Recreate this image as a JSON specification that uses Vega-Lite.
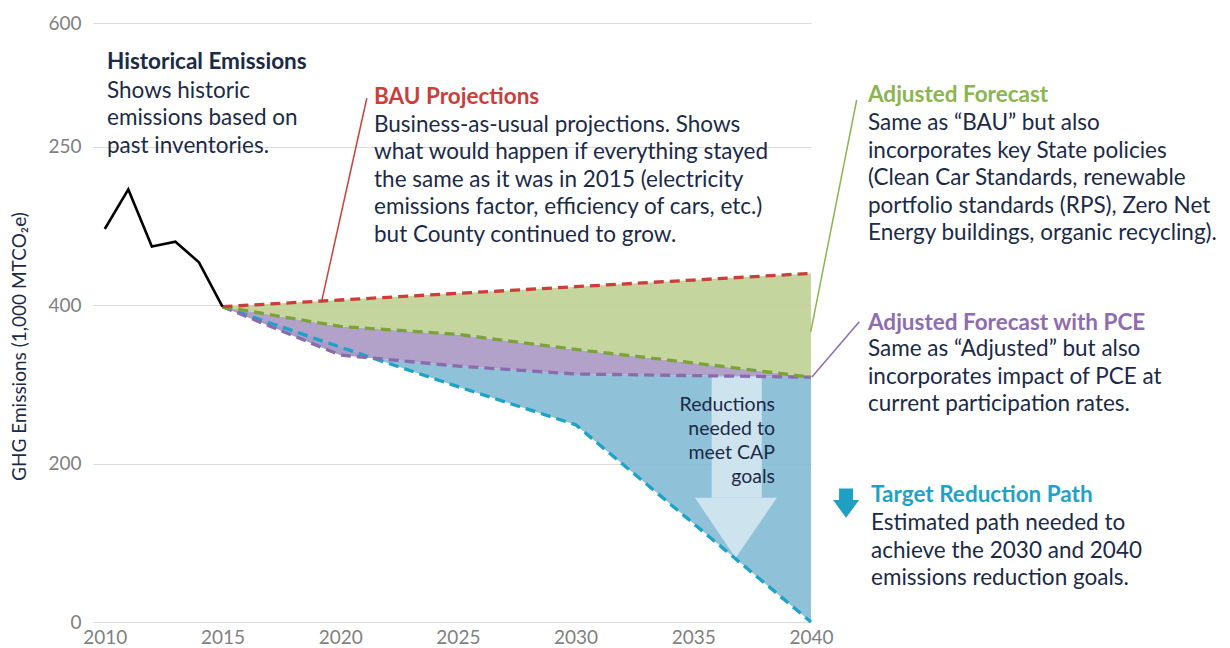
{
  "$schema": "https://vega.github.io/schema/vega-lite/v6.json",
  "width": 718,
  "height": 599,
  "autosize": {"type": "none"},
  "padding": {"left": 93, "top": 23, "right": 419, "bottom": 26},
  "background": "white",
  "config": {"view": {"stroke": null}, "font": "Lato"},
  "datasets": {
    "series": [
      {"year": 2015, "bau": 398, "adj": 398, "pce": 398, "target": 398},
      {"year": 2020, "bau": 406.4, "adj": 373, "pce": 337, "target": 347},
      {"year": 2025, "bau": 414.8, "adj": 363, "pce": 323, "target": 297},
      {"year": 2030, "bau": 423.2, "adj": 344, "pce": 313, "target": 249},
      {"year": 2035, "bau": 431.6, "adj": 327, "pce": 311, "target": 124.5},
      {"year": 2040, "bau": 440, "adj": 309, "pce": 309, "target": 0}
    ],
    "historical": [
      {"year": 2010, "value": 496},
      {"year": 2011, "value": 546},
      {"year": 2012, "value": 474},
      {"year": 2013, "value": 480},
      {"year": 2014, "value": 454},
      {"year": 2015, "value": 398}
    ],
    "arrow": [{"x1": 2035.78, "x2": 2037.91, "top": 310, "bottom": 156.7}],
    "arrowhead": [
      {"x": 2035.07, "top": 156.7, "tip": 156.7},
      {"x": 2036.8, "top": 156.7, "tip": 80.9},
      {"x": 2038.55, "top": 156.7, "tip": 156.7}
    ],
    "leaders": [
      {"series": "BAU", "x1": 2019.21, "y1": 404.3, "x2": 2021.13, "y2": 661},
      {"series": "Adjusted", "x1": 2039.99, "y1": 366.4, "x2": 2041.94, "y2": 658.8},
      {"series": "PCE", "x1": 2040.03, "y1": 308.8, "x2": 2042.05, "y2": 379.0}
    ],
    "notes": [
      {"series": "Historical", "x": 2010.095, "ty": 706.8, "by": 670.8, "title": "Historical Emissions", "body": "Shows historic\nemissions based on\npast inventories."},
      {"series": "BAU", "x": 2021.437, "ty": 662.6, "by": 627.3, "title": "BAU Projections", "body": "Business-as-usual projections. Shows\nwhat would happen if everything stayed\nthe same as it was in 2015 (electricity\nemissions factor, efficiency of cars, etc.)\nbut County continued to grow."},
      {"series": "Adjusted", "x": 2042.42, "ty": 665.1, "by": 629.4, "title": "Adjusted Forecast", "body": "Same as “BAU” but also\nincorporates key State policies\n(Clean Car Standards, renewable\nportfolio standards (RPS), Zero Net\nEnergy buildings, organic recycling)."},
      {"series": "PCE", "x": 2042.42, "ty": 377.4, "by": 344.2, "title": "Adjusted Forecast with PCE", "body": "Same as “Adjusted” but also\nincorporates impact of PCE at\ncurrent participation rates."},
      {"series": "Target", "x": 2042.55, "ty": 160.3, "by": 124.6, "title": "Target Reduction Path", "body": "Estimated path needed to\nachieve the 2030 and 2040\nemissions reduction goals."}
    ],
    "reductions": [{"x": 2038.47, "y": 273.9, "text": "Reductions\nneeded to\nmeet CAP\ngoals"}],
    "icon": [{"x": 2041.49, "y": 150.0}]
  },
  "layer": [
    {
      "data": {"name": "series"},
      "mark": {"type": "area", "color": "#85bcd5", "opacity": 0.92},
      "encoding": {
        "x": {"field": "year", "type": "quantitative", "scale": {"domain": [2009.5, 2040], "nice": false, "zero": false},
          "axis": {"values": [2010, 2015, 2020, 2025, 2030, 2035, 2040], "format": "d", "grid": false, "domain": false, "ticks": false, "labelFlush": false, "labelColor": "#7f7f7f", "labelFontSize": 19, "labelPadding": 6, "title": null}},
        "y": {"field": "pce", "type": "quantitative", "scale": {"domain": [0, 756], "nice": false, "zero": false},
          "axis": {"values": [0, 200, 400, 600, 756], "labelExpr": "datum.value == 600 ? '250' : datum.value == 756 ? '600' : datum.label", "grid": true, "gridColor": "#dadada", "gridWidth": 1.2, "domain": false, "ticks": false, "labelColor": "#7f7f7f", "labelFontSize": 19, "labelPadding": 12, "title": "GHG Emissions (1,000 MTCO₂e)", "titleColor": "#1b2a47", "titleFontSize": 19, "titleFontWeight": "normal", "titleX": -74, "titleY": 323, "titleAngle": 270, "titleAlign": "center", "titleBaseline": "middle"}},
        "y2": {"field": "target"}
      }
    },
    {
      "data": {"name": "series"},
      "mark": {"type": "area", "color": "#ab99c4", "opacity": 0.92},
      "encoding": {
        "x": {"field": "year", "type": "quantitative", "scale": {"domain": [2009.5, 2040], "nice": false, "zero": false}},
        "y": {"field": "adj", "type": "quantitative", "scale": {"domain": [0, 756], "nice": false, "zero": false}},
        "y2": {"field": "pce"}
      }
    },
    {
      "data": {"name": "series"},
      "mark": {"type": "area", "color": "#bfd395", "opacity": 0.92},
      "encoding": {
        "x": {"field": "year", "type": "quantitative", "scale": {"domain": [2009.5, 2040], "nice": false, "zero": false}},
        "y": {"field": "bau", "type": "quantitative", "scale": {"domain": [0, 756], "nice": false, "zero": false}},
        "y2": {"field": "adj"}
      }
    },
    {
      "data": {"name": "arrow"},
      "mark": {"type": "rect", "color": "#cde3ee"},
      "encoding": {
        "x": {"field": "x1", "type": "quantitative", "scale": {"domain": [2009.5, 2040], "nice": false, "zero": false}},
        "x2": {"field": "x2"},
        "y": {"field": "top", "type": "quantitative", "scale": {"domain": [0, 756], "nice": false, "zero": false}},
        "y2": {"field": "bottom"}
      }
    },
    {
      "data": {"name": "arrowhead"},
      "mark": {"type": "area", "color": "#cde3ee"},
      "encoding": {
        "x": {"field": "x", "type": "quantitative", "scale": {"domain": [2009.5, 2040], "nice": false, "zero": false}},
        "y": {"field": "top", "type": "quantitative", "scale": {"domain": [0, 756], "nice": false, "zero": false}},
        "y2": {"field": "tip"}
      }
    },
    {
      "data": {"name": "series"},
      "mark": {"type": "line", "color": "#1ca3c8", "strokeWidth": 3.3, "strokeDash": [10, 6]},
      "encoding": {
        "x": {"field": "year", "type": "quantitative", "scale": {"domain": [2009.5, 2040], "nice": false, "zero": false}},
        "y": {"field": "target", "type": "quantitative", "scale": {"domain": [0, 756], "nice": false, "zero": false}}
      }
    },
    {
      "data": {"name": "series"},
      "mark": {"type": "line", "color": "#8a6cae", "strokeWidth": 3.3, "strokeDash": [10, 6]},
      "encoding": {
        "x": {"field": "year", "type": "quantitative", "scale": {"domain": [2009.5, 2040], "nice": false, "zero": false}},
        "y": {"field": "pce", "type": "quantitative", "scale": {"domain": [0, 756], "nice": false, "zero": false}}
      }
    },
    {
      "data": {"name": "series"},
      "mark": {"type": "line", "color": "#7ca33a", "strokeWidth": 3.3, "strokeDash": [10, 6]},
      "encoding": {
        "x": {"field": "year", "type": "quantitative", "scale": {"domain": [2009.5, 2040], "nice": false, "zero": false}},
        "y": {"field": "adj", "type": "quantitative", "scale": {"domain": [0, 756], "nice": false, "zero": false}}
      }
    },
    {
      "data": {"name": "series"},
      "mark": {"type": "line", "color": "#cc3e3b", "strokeWidth": 3.3, "strokeDash": [10, 6]},
      "encoding": {
        "x": {"field": "year", "type": "quantitative", "scale": {"domain": [2009.5, 2040], "nice": false, "zero": false}},
        "y": {"field": "bau", "type": "quantitative", "scale": {"domain": [0, 756], "nice": false, "zero": false}}
      }
    },
    {
      "data": {"name": "historical"},
      "mark": {"type": "line", "color": "#000000", "strokeWidth": 2.6},
      "encoding": {
        "x": {"field": "year", "type": "quantitative", "scale": {"domain": [2009.5, 2040], "nice": false, "zero": false}},
        "y": {"field": "value", "type": "quantitative", "scale": {"domain": [0, 756], "nice": false, "zero": false}}
      }
    },
    {
      "data": {"name": "leaders"},
      "mark": {"type": "rule", "strokeWidth": 1.5},
      "encoding": {
        "x": {"field": "x1", "type": "quantitative", "scale": {"domain": [2009.5, 2040], "nice": false, "zero": false}},
        "x2": {"field": "x2"},
        "y": {"field": "y1", "type": "quantitative", "scale": {"domain": [0, 756], "nice": false, "zero": false}},
        "y2": {"field": "y2"},
        "color": {"field": "series", "type": "nominal", "legend": null,
          "scale": {"domain": ["Historical", "BAU", "Adjusted", "PCE", "Target"], "range": ["#1b2a47", "#c8403c", "#8ab54f", "#8e6cb0", "#1ea3c7"]}}
      }
    },
    {
      "data": {"name": "notes"},
      "mark": {"type": "text", "align": "left", "baseline": "middle", "fontSize": 22.5, "fontWeight": "bold"},
      "encoding": {
        "x": {"field": "x", "type": "quantitative", "scale": {"domain": [2009.5, 2040], "nice": false, "zero": false}},
        "y": {"field": "ty", "type": "quantitative", "scale": {"domain": [0, 756], "nice": false, "zero": false}},
        "text": {"field": "title"},
        "color": {"field": "series", "type": "nominal", "legend": null,
          "scale": {"domain": ["Historical", "BAU", "Adjusted", "PCE", "Target"], "range": ["#1b2a47", "#c8403c", "#8ab54f", "#8e6cb0", "#1ea3c7"]}}
      }
    },
    {
      "data": {"name": "notes"},
      "mark": {"type": "text", "align": "left", "baseline": "middle", "fontSize": 22.5, "color": "#1b2a47", "lineBreak": "\n", "lineHeight": 27.5},
      "encoding": {
        "x": {"field": "x", "type": "quantitative", "scale": {"domain": [2009.5, 2040], "nice": false, "zero": false}},
        "y": {"field": "by", "type": "quantitative", "scale": {"domain": [0, 756], "nice": false, "zero": false}},
        "text": {"field": "body"}
      }
    },
    {
      "data": {"name": "reductions"},
      "mark": {"type": "text", "align": "right", "baseline": "middle", "fontSize": 19.5, "color": "#1b2a47", "lineBreak": "\n", "lineHeight": 24},
      "encoding": {
        "x": {"field": "x", "type": "quantitative", "scale": {"domain": [2009.5, 2040], "nice": false, "zero": false}},
        "y": {"field": "y", "type": "quantitative", "scale": {"domain": [0, 756], "nice": false, "zero": false}},
        "text": {"field": "text"}
      }
    },
    {
      "data": {"name": "icon"},
      "mark": {"type": "point", "filled": true, "color": "#1ea0c3", "opacity": 1, "strokeWidth": 0, "size": 858,
        "shape": "M-0.478,-1 L0.478,-1 L0.478,-0.21 L0.887,-0.21 L0,1 L-0.887,-0.21 L-0.478,-0.21 Z"},
      "encoding": {
        "x": {"field": "x", "type": "quantitative", "scale": {"domain": [2009.5, 2040], "nice": false, "zero": false}},
        "y": {"field": "y", "type": "quantitative", "scale": {"domain": [0, 756], "nice": false, "zero": false}}
      }
    }
  ]
}
